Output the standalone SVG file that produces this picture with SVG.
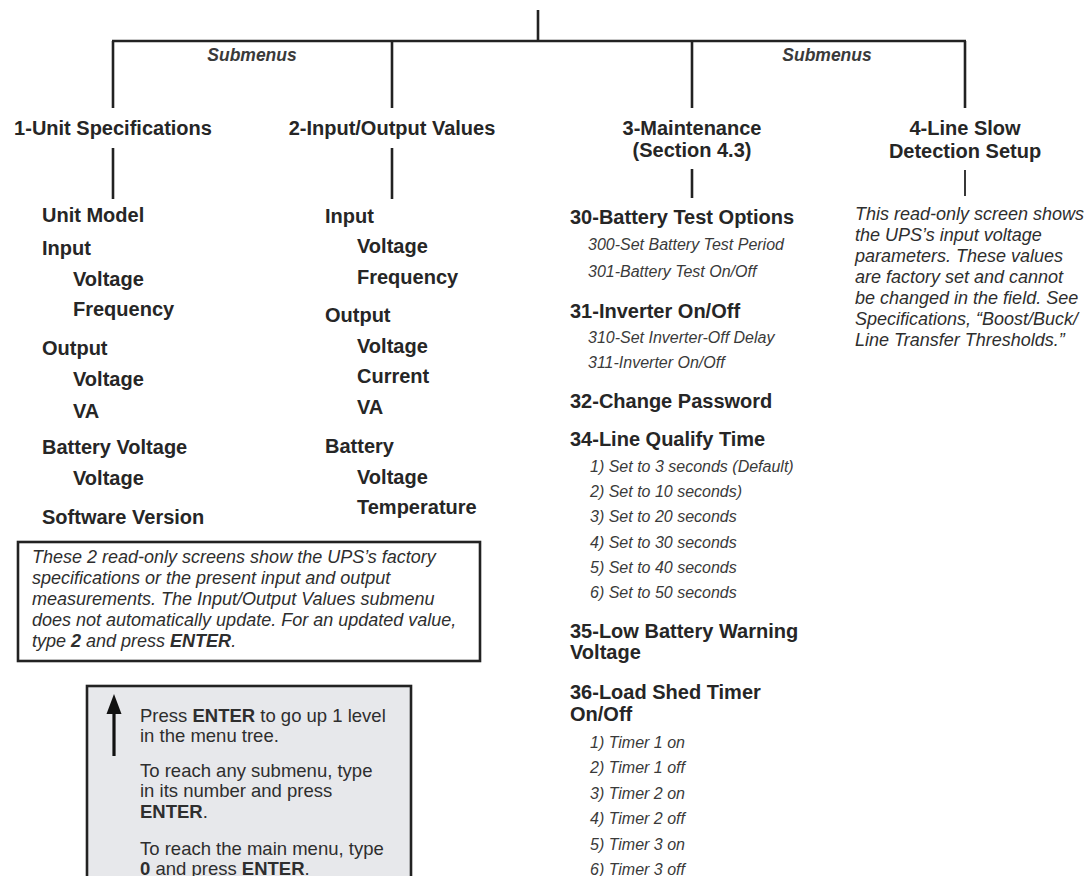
<svg xmlns="http://www.w3.org/2000/svg" width="1090" height="876" viewBox="0 0 1090 876">
<style>
  .ln { stroke: #222; stroke-width: 2.6; fill: none; }
  .ln2 { stroke: #222; stroke-width: 1.8; fill: none; }
  .h { font-family: "Liberation Sans", Arial, sans-serif; font-weight: bold; font-size: 20px; fill: #262626; text-anchor: middle; }
  .b { font-family: "Liberation Sans", Arial, sans-serif; font-weight: bold; font-size: 20px; fill: #262626; }
  .sm { font-family: "Liberation Sans", Arial, sans-serif; font-weight: bold; font-style: italic; font-size: 17.5px; fill: #3a3a3a; text-anchor: middle; }
  .it { font-family: "Liberation Sans", Arial, sans-serif; font-style: italic; font-size: 18px; fill: #2e2e2e; }
  .si { font-family: "Liberation Sans", Arial, sans-serif; font-style: italic; font-size: 16px; fill: #3a3a3a; }
  .rg { font-family: "Liberation Sans", Arial, sans-serif; font-size: 18.5px; fill: #2e2e2e; }
  .bx { fill: #ffffff; stroke: #222; stroke-width: 2.6; }
  .gbx { fill: #e7e8eb; stroke: #222; stroke-width: 2.6; }
</style>

<g id="connectors">
  <line class="ln" x1="538" y1="10" x2="538" y2="41"/>
  <line class="ln" x1="112" y1="41" x2="966" y2="41"/>
  <line class="ln" x1="113" y1="41" x2="113" y2="108"/>
  <line class="ln" x1="392" y1="41" x2="392" y2="108"/>
  <line class="ln" x1="692" y1="41" x2="692" y2="108"/>
  <line class="ln" x1="965" y1="41" x2="965" y2="108"/>
  <line class="ln" x1="113" y1="148" x2="113" y2="199"/>
  <line class="ln" x1="392" y1="148" x2="392" y2="199"/>
  <line class="ln" x1="692" y1="169" x2="692" y2="198"/>
  <line class="ln2" x1="965" y1="170" x2="965" y2="196"/>
</g>

<g id="submenus-labels">
  <text class="sm" x="252" y="61">Submenus</text>
  <text class="sm" x="827" y="61">Submenus</text>
</g>

<g id="node-1-unit-specifications">
  <text class="h" x="113" y="135">1-Unit Specifications</text>
</g>
<g id="node-2-input-output-values">
  <text class="h" x="392" y="135">2-Input/Output Values</text>
</g>
<g id="node-3-maintenance">
  <text class="h" x="692" y="135">3-Maintenance</text>
  <text class="h" x="692" y="157">(Section 4.3)</text>
</g>
<g id="node-4-line-slow">
  <text class="h" x="965" y="135">4-Line Slow</text>
  <text class="h" x="965" y="158">Detection Setup</text>
</g>

<g id="list-1-unit-specifications">
  <text class="b" x="42" y="222">Unit Model</text>
  <text class="b" x="42" y="255">Input</text>
  <text class="b" x="73" y="286">Voltage</text>
  <text class="b" x="73" y="316">Frequency</text>
  <text class="b" x="42" y="355">Output</text>
  <text class="b" x="73" y="386">Voltage</text>
  <text class="b" x="73" y="418">VA</text>
  <text class="b" x="42" y="454">Battery Voltage</text>
  <text class="b" x="73" y="485">Voltage</text>
  <text class="b" x="42" y="524">Software Version</text>
</g>

<g id="list-2-input-output-values">
  <text class="b" x="325" y="223">Input</text>
  <text class="b" x="357" y="253">Voltage</text>
  <text class="b" x="357" y="284">Frequency</text>
  <text class="b" x="325" y="322">Output</text>
  <text class="b" x="357" y="353">Voltage</text>
  <text class="b" x="357" y="383">Current</text>
  <text class="b" x="357" y="414">VA</text>
  <text class="b" x="325" y="453">Battery</text>
  <text class="b" x="357" y="484">Voltage</text>
  <text class="b" x="357" y="514">Temperature</text>
</g>

<g id="list-3-maintenance">
  <text class="b" x="570" y="224">30-Battery Test Options</text>
  <text class="si" x="588" y="250">300-Set Battery Test Period</text>
  <text class="si" x="588" y="277">301-Battery Test On/Off</text>
  <text class="b" x="570" y="318">31-Inverter On/Off</text>
  <text class="si" x="588" y="343">310-Set Inverter-Off Delay</text>
  <text class="si" x="588" y="368">311-Inverter On/Off</text>
  <text class="b" x="570" y="408">32-Change Password</text>
  <text class="b" x="570" y="446">34-Line Qualify Time</text>
  <text class="si" x="590" y="472">1) Set to 3 seconds (Default)</text>
  <text class="si" x="590" y="497">2) Set to 10 seconds)</text>
  <text class="si" x="590" y="522">3) Set to 20 seconds</text>
  <text class="si" x="590" y="548">4) Set to 30 seconds</text>
  <text class="si" x="590" y="573">5) Set to 40 seconds</text>
  <text class="si" x="590" y="598">6) Set to 50 seconds</text>
  <text class="b" x="570" y="638">35-Low Battery Warning</text>
  <text class="b" x="570" y="659">Voltage</text>
  <text class="b" x="570" y="699">36-Load Shed Timer</text>
  <text class="b" x="570" y="721">On/Off</text>
  <text class="si" x="590" y="748">1) Timer 1 on</text>
  <text class="si" x="590" y="773">2) Timer 1 off</text>
  <text class="si" x="590" y="799">3) Timer 2 on</text>
  <text class="si" x="590" y="824">4) Timer 2 off</text>
  <text class="si" x="590" y="850">5) Timer 3 on</text>
  <text class="si" x="590" y="875">6) Timer 3 off</text>
</g>

<g id="note-4-line-slow">
  <text class="it" x="855" y="220">This read-only screen shows</text>
  <text class="it" x="855" y="241">the UPS’s input voltage</text>
  <text class="it" x="855" y="262">parameters. These values</text>
  <text class="it" x="855" y="283">are factory set and cannot</text>
  <text class="it" x="855" y="304">be changed in the field. See</text>
  <text class="it" x="855" y="325">Specifications, “Boost/Buck/</text>
  <text class="it" x="855" y="346">Line Transfer Thresholds.”</text>
</g>

<g id="note-read-only-box">
  <rect class="bx" x="18" y="542" width="462" height="119"/>
  <text class="it" x="32" y="563">These 2 read-only screens show the UPS’s factory</text>
  <text class="it" x="32" y="584">specifications or the present input and output</text>
  <text class="it" x="32" y="605">measurements. The Input/Output Values submenu</text>
  <text class="it" x="32" y="626">does not automatically update. For an updated value,</text>
  <text class="it" x="32" y="647">type <tspan font-weight="bold">2</tspan> and press <tspan font-weight="bold">ENTER</tspan>.</text>
</g>

<g id="help-box">
  <rect class="gbx" x="87" y="686" width="324" height="210"/>
  <line x1="114" y1="711" x2="114" y2="756" stroke="#111" stroke-width="3.2"/>
  <polygon points="114,694 106.5,714 121.5,714" fill="#111"/>
  <text class="rg" x="140" y="722">Press <tspan font-weight="bold">ENTER</tspan> to go up 1 level</text>
  <text class="rg" x="140" y="742">in the menu tree.</text>
  <text class="rg" x="140" y="777">To reach any submenu, type</text>
  <text class="rg" x="140" y="797">in its number and press</text>
  <text class="rg" x="140" y="818"><tspan font-weight="bold">ENTER</tspan>.</text>
  <text class="rg" x="140" y="855">To reach the main menu, type</text>
  <text class="rg" x="140" y="875"><tspan font-weight="bold">0</tspan> and press <tspan font-weight="bold">ENTER</tspan>.</text>
</g>
</svg>
